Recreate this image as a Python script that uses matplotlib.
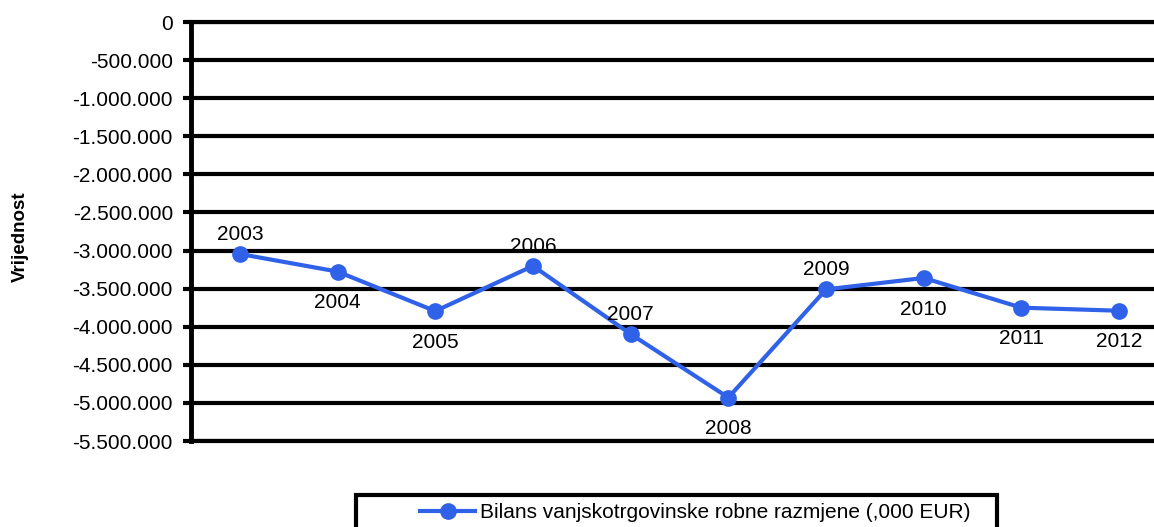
import matplotlib.pyplot as plt
from matplotlib.patches import Rectangle
from matplotlib.ticker import FuncFormatter, MultipleLocator

plt.rcParams['font.family'] = ['Liberation Sans', 'DejaVu Sans']

# Bilans vanjskotrgovinske robne razmjene (,000 EUR)
years = ['2003', '2004', '2005', '2006', '2007', '2008', '2009', '2010', '2011', '2012']
values = [-3045000, -3276000, -3795000, -3202000, -4096000, -4930000,
          -3510000, -3360000, -3750000, -3790000]
label_above = [True, False, False, True, True, False, True, False, False, False]

blue = '#2F62E8'
W, H = 1154, 527

fig = plt.figure(figsize=(W / 100, H / 100), dpi=100)
ax = fig.add_axes([191 / W, 1 - 441 / H, (1168 - 191) / W, 419 / H])

x = list(range(len(years)))
ax.plot(x, values, color=blue, lw=3, marker='o', markersize=11,
        label='Bilans vanjskotrgovinske robne razmjene (,000 EUR)', zorder=3)

for xi, v, yr, up in zip(x, values, years, label_above):
    off = 14 if up else -22.5
    ax.annotate(yr, (xi, v), xytext=(0, off), textcoords='offset points',
                ha='center', va='center', fontsize=15, color='black')

ax.set_xlim(-0.5, len(years) - 0.5)
ax.set_ylim(-5500000, 0)
ax.yaxis.set_major_locator(MultipleLocator(500000))
ax.yaxis.set_major_formatter(FuncFormatter(lambda v, p: f'{int(v):,}'.replace(',', '.')))
ax.grid(axis='y', color='black', lw=3)
ax.set_xticks([])
ax.tick_params(axis='y', labelsize=15, length=6, width=3, pad=7, color='black')

for s in ['top', 'bottom']:
    ax.spines[s].set_color('black')
    ax.spines[s].set_linewidth(3)
ax.spines['left'].set_linewidth(3.5)
ax.spines['right'].set_visible(False)

fig.text(20 / W, 1 - 237 / H, 'Vrijednost', rotation=90, fontsize=13.5,
         fontweight='bold', ha='center', va='center')

# legend box (runs off the bottom edge like the original)
fig.patches.append(Rectangle((356 / W, -30 / H), (997 - 356) / W, (30 + 527 - 495) / H,
                             transform=fig.transFigure, fill=False,
                             edgecolor='black', lw=3))
fig.legend(loc='center left', bbox_to_anchor=(420 / W, 1 - 513 / H),
           fontsize=15, frameon=False, handlelength=2.64,
           handletextpad=0.24, borderpad=0, borderaxespad=0)

fig.savefig('out.png', dpi=100)
